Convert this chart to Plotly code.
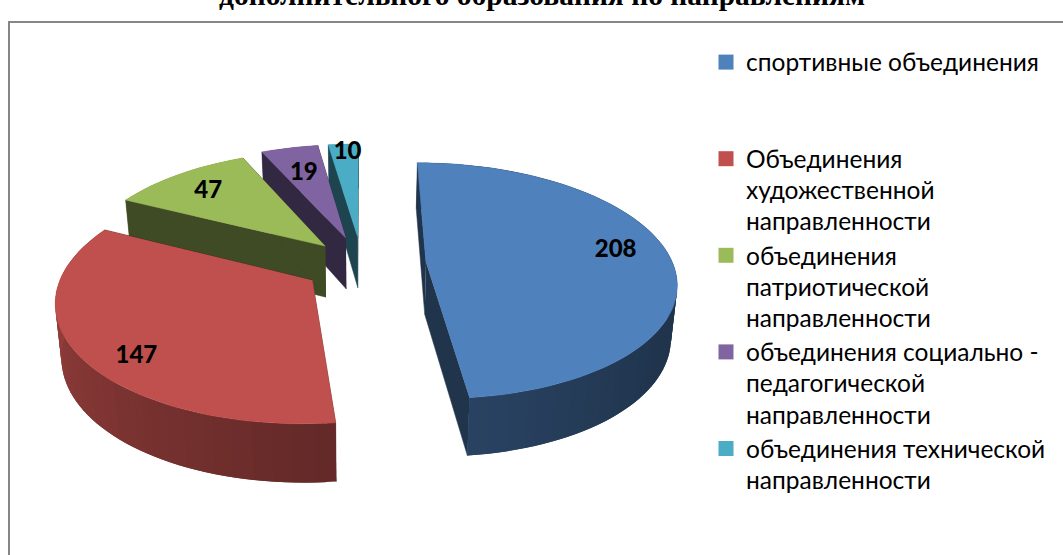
import numpy as np
import plotly.graph_objects as go

# ---- data ----
categories = ["спортивные объединения",
              "Объединения художественной направленности",
              "объединения патриотической направленности",
              "объединения социально - педагогической направленности",
              "объединения технической направленности"]
values = [208, 147, 47, 19, 10]
legend_lines = [["спортивные объединения", " ", " "],
                ["Объединения", "художественной", "направленности"],
                ["объединения", "патриотической", "направленности"],
                ["объединения социально -", "педагогической", "направленности"],
                ["объединения технической", "направленности"]]
colors = ["#4f81bd", "#c0504d", "#9bbb59", "#8064a2", "#4bacc6"]
explode = [0.26, 0.24, 0.22, 0.24, 0.24]
label_r = [0.80, 0.83, 0.78, 0.72, 0.93]
label_da = [-6, -7, 0, 0, 1]

# ---- view of the tilted pie ----
CX, CY, A, K, P = 362.0, 264.0, 247.0, 115.6, 0.156


def project(X, Y, bottom=False):
    X, Y = np.asarray(X, float), np.asarray(Y, float)
    s = 1.0 / (1.0 - P * Y)
    px, py = CX + A * X * s, CY + K * Y * s
    if bottom:
        px = CX + (px - CX) * 0.98
        py = py + 52 + 6 * Y
    return px, py


def shade(hex_color, f):
    rgb = [int(hex_color[i:i + 2], 16) for i in (1, 3, 5)]
    return "rgb(%d,%d,%d)" % tuple(min(255, round(c * f)) for c in rgb)


def light(theta):
    return float(np.interp(theta, [0, 120, 180, 296, 360], [0.40, 0.40, 0.53, 0.85, 0.85]))


def poly(xs, ys, color, width=0.0):
    return go.Scatter(x=list(xs), y=list(ys), mode="lines", fill="toself", fillcolor=color,
                      line=dict(color=color, width=width), hoverinfo="skip", showlegend=False)


total = sum(values)
edges = np.concatenate([[0], np.cumsum(values)]) / total * 360.0
fig = go.Figure()

# legend entries
for name, lines, color in zip(categories, legend_lines, colors):
    label = "<br>".join('<span style="font-size:24.5px">%s</span>' % l for l in lines)
    fig.add_trace(go.Scatter(x=[None], y=[None], mode="markers", name=label,
                             marker=dict(symbol="square", size=15, color=color)))

# slices, back to front
for i in [4, 3, 2, 1, 0]:
    t0, t1 = edges[i], edges[i + 1]
    mid = np.radians((t0 + t1) / 2)
    ox, oy = explode[i] * np.sin(mid), -explode[i] * np.cos(mid)
    n = max(4, int((t1 - t0) / 2))
    th = np.linspace(t0, t1, n + 1)
    rx, ry = ox + np.sin(np.radians(th)), oy - np.cos(np.radians(th))
    tx, ty = project(rx, ry)
    bx, by = project(rx, ry, True)

    def strip(j):
        # each strip overlaps the next one, so no seams show
        k = min(n, j + 2)
        f = light((th[j] + th[j + 1]) / 2)
        return poly(np.r_[tx[j:k + 1], bx[j:k + 1][::-1]],
                    np.r_[ty[j:k + 1], by[j:k + 1][::-1]], shade(colors[i], f))

    is_back = [np.cos(np.radians((th[j] + th[j + 1]) / 2)) > 0 for j in range(n)]
    # back part of the wall, then cut faces, then front part of the wall
    for j in range(n):
        if is_back[j]:
            fig.add_trace(strip(j))
    for j in (0, n):
        xs = [ox, rx[j]]
        ys = [oy, ry[j]]
        cx, cy = project(xs, ys)
        dx, dy = project(xs, ys, True)
        fig.add_trace(poly(np.r_[cx, dx[::-1]], np.r_[cy, dy[::-1]], shade(colors[i], 0.40), 0.5))
    for j in range(n):
        if not is_back[j]:
            fig.add_trace(strip(j))
    # top face
    fx, fy = project(np.r_[ox, rx], np.r_[oy, ry])
    fig.add_trace(poly(fx, fy, colors[i], 0.5))

# value labels
for i, v in enumerate(values):
    mid = np.radians((edges[i] + edges[i + 1]) / 2)
    a = mid + np.radians(label_da[i])
    lx, ly = project(explode[i] * np.sin(mid) + label_r[i] * np.sin(a),
                     -explode[i] * np.cos(mid) - label_r[i] * np.cos(a))
    fig.add_trace(go.Scatter(x=[float(lx)], y=[float(ly) + 3], mode="text", text=[str(v)],
                             textposition="middle center", hoverinfo="skip", showlegend=False,
                             textfont=dict(family="Lato", size=24, color="#000000", weight=900)))

fig.update_layout(
    width=1063, height=555, autosize=False,
    margin=dict(l=0, r=0, t=0, b=0),
    paper_bgcolor="#ffffff", plot_bgcolor="#ffffff",
    xaxis=dict(range=[0, 1063], visible=False, fixedrange=True),
    yaxis=dict(range=[555, 0], visible=False, fixedrange=True),
    shapes=[dict(type="path", path="M 9 555 L 9 22 L 1063 22", xref="x", yref="y",
                 line=dict(color="#868686", width=2))],
    annotations=[dict(text="<b>дополнительного образования по направлениям</b>",
                      x=542, y=13, xref="x", yref="y", xanchor="center", yanchor="bottom",
                      showarrow=False,
                      font=dict(family="Liberation Serif", size=29.5, color="#000000"))],
    legend=dict(x=706 / 1063, y=1 - 40 / 555, xanchor="left", yanchor="top", valign="top",
                font=dict(family="Lato", size=24, color="#000000"),
                bgcolor="rgba(0,0,0,0)", tracegroupgap=0, itemclick=False, itemdoubleclick=False),
    showlegend=True,
)
fig.write_html("out.html", config={"displayModeBar": False},
               post_script="document.body.style.margin='0';document.body.style.overflow='hidden';")
